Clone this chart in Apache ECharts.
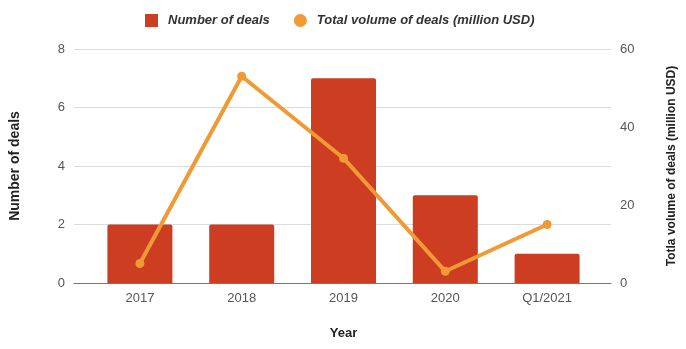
<!DOCTYPE html>
<html>
<head>
<meta charset="utf-8">
<script src="https://cdn.jsdelivr.net/npm/echarts@6/dist/echarts.min.js"></script>
<style>
html, body { margin: 0; padding: 0; background: #fff; }
#chart { width: 686px; height: 349px; }
</style>
</head>
<body>
<div id="chart"></div>
<script>
let years = ['2017', '2018', '2019', '2020', 'Q1/2021']
let dealCount = [2, 2, 7, 3, 1]
let dealVolume = [5, 53, 32, 3, 15]
let countTicks = [0, 8, 2]
let volumeTicks = [0, 60, 20]

let myChart = echarts.init(document.getElementById('chart'))
let font = 'Liberation Sans, Arial, sans-serif'
let option = {
	animation: false,
	textStyle: { fontFamily: font },
	legend: {
		top: 9,
		left: 140,
		itemWidth: 13,
		itemHeight: 13,
		itemGap: 24,
		textStyle: { fontSize: 13, fontWeight: 'bold', fontStyle: 'italic', color: '#333', padding: [0, 0, 0, 5] },
		data: [
			{ name: 'Number of deals', icon: 'rect' },
			{ name: 'Total volume of deals (million USD)', icon: 'circle' }
		]
	},
	grid: [
		{ left: 72, right: 73, top: 49, bottom: 66 },
		{ left: 89, right: 88, top: 49, bottom: 66 }
	],
	xAxis: [
		{
			gridIndex: 0, type: 'value', min: 0, max: 1,
			axisLine: { show: true, lineStyle: { color: '#777', width: 1 } },
			axisTick: { show: false }, axisLabel: { show: false }, splitLine: { show: false }
		},
		{
			gridIndex: 1, type: 'category', data: years,
			name: 'Year', nameLocation: 'middle', nameGap: 44,
			nameTextStyle: { fontSize: 13, fontWeight: 'bold', color: '#222' },
			axisLine: { show: false }, axisTick: { show: false },
			axisLabel: { fontSize: 13, color: '#555', margin: 9 }
		}
	],
	yAxis: [
		{
			gridIndex: 0, type: 'value', position: 'left',
			min: countTicks[0], max: countTicks[1], interval: countTicks[2],
			name: 'Number of deals', nameLocation: 'middle', nameGap: 52,
			nameTextStyle: { fontSize: 14, fontWeight: 'bold', color: '#222' },
			axisLine: { show: false }, axisTick: { show: false },
			axisLabel: { fontSize: 13, color: '#555', margin: 9 },
			splitLine: { lineStyle: { color: '#dcdcdc' } }
		},
		{
			gridIndex: 0, type: 'value', position: 'right',
			min: volumeTicks[0], max: volumeTicks[1], interval: volumeTicks[2],
			name: 'Totla volume of deals (million USD)', nameLocation: 'middle', nameGap: 55,
			nameTextStyle: { fontSize: 12, fontWeight: 'bold', color: '#222' },
			axisLine: { show: false }, axisTick: { show: false },
			axisLabel: { fontSize: 13, color: '#555', margin: 9 },
			splitLine: { show: false }
		},
		{
			gridIndex: 1, type: 'value', min: countTicks[0], max: countTicks[1],
			show: false, splitLine: { show: false }
		},
		{
			gridIndex: 1, type: 'value', min: volumeTicks[0], max: volumeTicks[1],
			show: false, splitLine: { show: false }
		}
	],
	series: [
		{
			name: 'Number of deals',
			type: 'bar',
			xAxisIndex: 1, yAxisIndex: 2,
			barWidth: 65,
			itemStyle: { color: '#cc3d22', borderRadius: [2, 2, 0, 0] },
			data: dealCount
		},
		{
			name: 'Total volume of deals (million USD)',
			type: 'line',
			xAxisIndex: 1, yAxisIndex: 3,
			symbol: 'circle', symbolSize: 9,
			lineStyle: { color: '#f09a36', width: 4 },
			itemStyle: { color: '#f09a36' },
			data: dealVolume
		}
	]
}
myChart.setOption(option)
</script>
</body>
</html>
